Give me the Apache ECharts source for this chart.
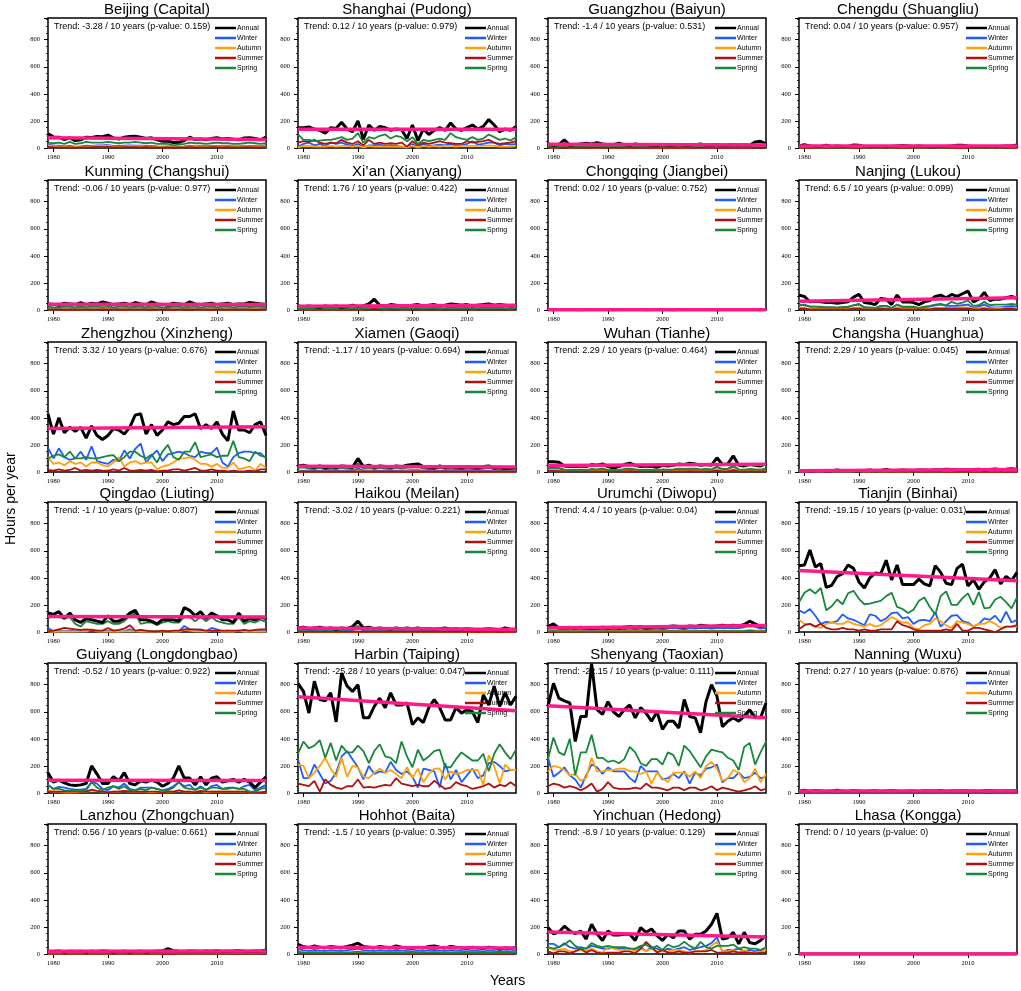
<!DOCTYPE html>
<html>
<head>
<meta charset="utf-8">
<script src="https://cdn.jsdelivr.net/npm/echarts@6/dist/echarts.min.js"></script>
<style>
  html, body { margin: 0; padding: 0; background: #fff; }
  #main { width: 1021px; height: 991px; }
</style>
</head>
<body>
<div id="main"></div>
<script>
var years = [1979, 1980, 1981, 1982, 1983, 1984, 1985, 1986, 1987, 1988,
  1989, 1990, 1991, 1992, 1993, 1994, 1995, 1996, 1997, 1998,
  1999, 2000, 2001, 2002, 2003, 2004, 2005, 2006, 2007, 2008,
  2009, 2010, 2011, 2012, 2013, 2014, 2015, 2016, 2017, 2018,
  2019];

var seasonNames = ['Annual', 'Winter', 'Autumn', 'Summer', 'Spring'];
var yTicks = [0, 200, 400, 600, 800];

// Beijing (Capital)
var beijingAnnual = [105, 82, 80, 62, 75, 55, 60, 80, 78, 85,
  84, 95, 75, 66, 80, 85, 86, 80, 70, 75,
  60, 50, 52, 40, 42, 55, 80, 62, 66, 60,
  70, 76, 66, 70, 64, 60, 74, 76, 70, 60,
  80];
var beijingWinter = [25, 20, 18, 12, 15, 10, 12, 18, 15, 20,
  20, 22, 15, 15, 18, 20, 18, 17, 15, 16,
  12, 10, 12, 8, 8, 12, 18, 12, 14, 13,
  15, 16, 14, 15, 14, 12, 16, 15, 15, 13,
  20];
var beijingAutumn = [20, 15, 12, 10, 8, 8, 6, 10, 12, 15,
  14, 18, 12, 8, 12, 15, 14, 14, 10, 10,
  10, 6, 6, 8, 5, 8, 12, 8, 9, 10,
  12, 12, 10, 12, 12, 10, 14, 12, 12, 10,
  15];
var beijingSummer = [8, 6, 5, 4, 5, 3, 4, 5, 6, 8,
  6, 8, 5, 4, 6, 6, 6, 5, 6, 5,
  4, 3, 4, 3, 3, 4, 6, 5, 5, 5,
  6, 6, 5, 6, 5, 5, 6, 6, 5, 5,
  6];
var beijingSpring = [40, 35, 40, 30, 45, 30, 35, 45, 40, 40,
  40, 45, 40, 35, 40, 40, 45, 40, 35, 40,
  30, 30, 30, 20, 25, 30, 40, 35, 35, 30,
  35, 40, 35, 35, 30, 30, 35, 40, 35, 30,
  35];

// Shanghai (Pudong)
var shanghaiAnnual = [150, 150, 155, 140, 130, 110, 150, 145, 190, 140,
  120, 200, 65, 170, 130, 160, 150, 130, 140, 135,
  70, 170, 55, 140, 100, 130, 150, 130, 185, 140,
  130, 150, 170, 140, 160, 210, 170, 120, 140, 130,
  160];
var shanghaiWinter = [10, 30, 40, 20, 30, 15, 40, 30, 40, 25,
  15, 30, 5, 20, 20, 25, 15, 20, 15, 10,
  5, 30, 5, 30, 15, 20, 25, 20, 30, 20,
  20, 30, 50, 25, 30, 40, 40, 20, 30, 25,
  30];
var shanghaiAutumn = [5, 15, 15, 10, 10, 10, 15, 10, 15, 15,
  10, 15, 5, 15, 10, 10, 10, 10, 10, 10,
  5, 15, 5, 15, 10, 15, 10, 15, 15, 10,
  15, 15, 15, 15, 15, 20, 15, 10, 10, 10,
  15];
var shanghaiSummer = [40, 50, 45, 60, 40, 30, 40, 35, 60, 40,
  30, 50, 20, 60, 30, 40, 30, 35, 30, 40,
  10, 50, 20, 40, 30, 40, 50, 40, 35, 30,
  30, 50, 40, 45, 50, 60, 40, 30, 35, 40,
  50];
var shanghaiSpring = [100, 60, 60, 50, 55, 60, 60, 70, 80, 60,
  70, 110, 40, 80, 70, 90, 100, 70, 90, 80,
  50, 80, 30, 60, 50, 60, 70, 60, 110, 80,
  70, 60, 80, 60, 70, 100, 80, 60, 70, 55,
  80];

// Guangzhou (Baiyun)
var guangzhouAnnual = [30, 20, 25, 60, 20, 25, 30, 35, 30, 40,
  30, 25, 25, 35, 25, 20, 30, 25, 25, 20,
  20, 25, 20, 20, 25, 20, 20, 25, 30, 20,
  20, 25, 20, 20, 25, 20, 25, 20, 45, 50,
  30];
var guangzhouWinter = [8, 5, 6, 15, 5, 6, 8, 10, 8, 10,
  8, 6, 6, 10, 6, 5, 8, 6, 6, 5,
  5, 6, 5, 5, 6, 5, 5, 6, 8, 5,
  5, 6, 5, 5, 6, 5, 6, 5, 12, 12,
  8];
var guangzhouAutumn = [4, 3, 4, 8, 3, 4, 4, 5, 4, 5,
  4, 4, 4, 5, 4, 3, 4, 4, 4, 3,
  3, 4, 3, 3, 4, 3, 3, 4, 4, 3,
  3, 4, 3, 3, 4, 3, 4, 3, 8, 8,
  4];
var guangzhouSummer = [3, 2, 3, 7, 2, 3, 3, 5, 3, 5,
  3, 3, 3, 5, 3, 2, 3, 3, 3, 2,
  2, 3, 2, 2, 3, 2, 2, 3, 3, 2,
  2, 3, 2, 2, 3, 2, 3, 2, 5, 5,
  3];
var guangzhouSpring = [15, 10, 12, 30, 10, 12, 15, 15, 15, 20,
  15, 12, 12, 15, 12, 10, 15, 12, 12, 10,
  10, 12, 10, 10, 12, 10, 10, 12, 15, 10,
  10, 12, 10, 10, 12, 10, 12, 10, 20, 25,
  15];

// Chengdu (Shuangliu)
var chengduAnnual = [15, 25, 15, 12, 12, 20, 12, 15, 10, 12,
  22, 20, 12, 10, 12, 12, 10, 12, 15, 18,
  15, 12, 15, 12, 10, 10, 12, 12, 15, 20,
  20, 15, 12, 12, 10, 12, 10, 12, 15, 15,
  22];
var chengduWinter = [6, 10, 6, 5, 5, 8, 5, 6, 4, 5,
  9, 8, 5, 4, 5, 5, 4, 5, 6, 7,
  6, 5, 6, 5, 4, 4, 5, 5, 6, 8,
  8, 6, 5, 5, 4, 5, 4, 5, 6, 6,
  9];
var chengduAutumn = [3, 5, 3, 3, 3, 4, 3, 3, 2, 3,
  5, 4, 3, 2, 3, 3, 2, 3, 3, 4,
  3, 3, 3, 3, 2, 2, 3, 3, 3, 4,
  4, 3, 3, 3, 2, 3, 2, 3, 3, 3,
  5];
var chengduSummer = [2, 3, 2, 1, 1, 2, 1, 2, 1, 1,
  2, 2, 1, 1, 1, 1, 1, 1, 2, 2,
  2, 1, 2, 1, 1, 1, 1, 1, 2, 2,
  2, 2, 1, 1, 1, 1, 1, 1, 2, 2,
  2];
var chengduSpring = [4, 7, 4, 3, 3, 6, 3, 4, 3, 3,
  6, 6, 3, 3, 3, 3, 3, 3, 4, 5,
  4, 3, 4, 3, 3, 3, 3, 3, 4, 6,
  6, 4, 3, 3, 3, 3, 3, 3, 4, 4,
  6];

// Kunming (Changshui)
var kunmingAnnual = [45, 40, 35, 50, 45, 40, 55, 40, 50, 45,
  60, 50, 40, 45, 50, 40, 55, 45, 40, 60,
  45, 40, 35, 50, 45, 40, 60, 45, 40, 45,
  50, 40, 45, 50, 40, 45, 45, 55, 50, 45,
  40];
var kunmingWinter = [12, 12, 10, 14, 12, 12, 15, 12, 14, 12,
  16, 14, 12, 12, 14, 12, 15, 12, 12, 16,
  12, 12, 10, 14, 12, 12, 16, 12, 12, 12,
  14, 12, 12, 14, 12, 12, 12, 15, 14, 12,
  12];
var kunmingAutumn = [5, 5, 5, 6, 5, 5, 7, 5, 6, 5,
  8, 6, 5, 5, 6, 5, 7, 5, 5, 8,
  5, 5, 5, 6, 5, 5, 8, 5, 5, 5,
  6, 5, 5, 6, 5, 5, 5, 7, 6, 5,
  5];
var kunmingSummer = [3, 3, 2, 2, 3, 3, 3, 3, 2, 3,
  4, 2, 3, 3, 2, 3, 3, 3, 3, 4,
  3, 3, 2, 2, 3, 3, 4, 3, 3, 3,
  2, 3, 3, 2, 3, 3, 3, 3, 2, 3,
  3];
var kunmingSpring = [25, 20, 18, 28, 25, 20, 30, 20, 28, 25,
  32, 28, 20, 25, 28, 20, 30, 25, 20, 32,
  25, 20, 18, 28, 25, 20, 32, 25, 20, 25,
  28, 20, 25, 28, 20, 25, 25, 30, 28, 25,
  20];

// Xi'an (Xianyang)
var xianAnnual = [30, 25, 30, 25, 20, 30, 25, 30, 20, 25,
  35, 25, 30, 45, 80, 35, 30, 40, 35, 30,
  30, 35, 40, 30, 35, 40, 30, 35, 45, 40,
  35, 40, 30, 35, 40, 45, 35, 40, 35, 30,
  35];
var xianWinter = [10, 8, 10, 8, 6, 10, 8, 10, 6, 8,
  12, 8, 10, 15, 25, 12, 10, 13, 12, 10,
  10, 12, 13, 10, 12, 13, 10, 12, 15, 13,
  12, 13, 10, 12, 13, 15, 12, 13, 12, 10,
  12];
var xianAutumn = [5, 4, 5, 4, 4, 5, 4, 5, 4, 4,
  6, 4, 5, 8, 15, 6, 5, 7, 6, 5,
  5, 6, 7, 5, 6, 7, 5, 6, 8, 7,
  6, 7, 5, 6, 7, 8, 6, 7, 6, 5,
  6];
var xianSummer = [3, 3, 3, 3, 2, 3, 3, 3, 2, 3,
  3, 3, 3, 4, 10, 3, 3, 4, 3, 3,
  3, 3, 4, 3, 3, 4, 3, 3, 4, 4,
  3, 4, 3, 3, 4, 4, 3, 4, 3, 3,
  3];
var xianSpring = [12, 10, 12, 10, 8, 12, 10, 12, 8, 10,
  14, 10, 12, 18, 30, 14, 12, 16, 14, 12,
  12, 14, 16, 12, 14, 16, 12, 14, 18, 16,
  14, 16, 12, 14, 16, 18, 14, 16, 14, 12,
  14];

// Chongqing (Jiangbei)
var chongqingAnnual = [2, 1, 1, 2, 1, 1, 0, 1, 2, 1,
  1, 1, 0, 1, 1, 2, 1, 1, 0, 1,
  1, 1, 1, 0, 1, 1, 1, 2, 1, 1,
  1, 0, 1, 1, 1, 1, 2, 1, 1, 1,
  1];
var chongqingWinter = [1, 1, 0, 1, 0, 1, 0, 0, 1, 1,
  0, 1, 0, 0, 1, 1, 0, 1, 0, 0,
  1, 0, 1, 0, 0, 1, 0, 1, 1, 0,
  0, 0, 1, 0, 1, 0, 1, 0, 1, 0,
  1];
var chongqingAutumn = [0, 0, 0, 0, 0, 0, 0, 0, 0, 0,
  0, 0, 0, 0, 0, 0, 0, 0, 0, 0,
  0, 0, 0, 0, 0, 0, 0, 0, 0, 0,
  0, 0, 0, 0, 0, 0, 0, 0, 0, 0,
  0];
var chongqingSummer = [0, 0, 0, 0, 0, 0, 0, 0, 0, 0,
  0, 0, 0, 0, 0, 0, 0, 0, 0, 0,
  0, 0, 0, 0, 0, 0, 0, 0, 0, 0,
  0, 0, 0, 0, 0, 0, 0, 0, 0, 0,
  0];
var chongqingSpring = [1, 0, 1, 1, 1, 0, 0, 1, 1, 0,
  1, 0, 0, 1, 0, 1, 1, 0, 0, 1,
  0, 1, 0, 0, 1, 0, 1, 1, 0, 1,
  1, 0, 0, 1, 0, 1, 1, 1, 0, 1,
  0];

// Nanjing (Lukou)
var nanjingAnnual = [110, 100, 60, 65, 60, 55, 55, 50, 55, 60,
  95, 115, 55, 50, 40, 85, 80, 40, 110, 60,
  60, 55, 40, 60, 70, 100, 110, 90, 115, 100,
  120, 140, 60, 80, 130, 70, 80, 80, 90, 100,
  85];
var nanjingWinter = [35, 40, 25, 25, 20, 20, 20, 15, 20, 20,
  35, 45, 20, 15, 12, 30, 30, 12, 40, 20,
  20, 20, 12, 20, 25, 35, 40, 30, 30, 30,
  35, 40, 15, 25, 40, 20, 20, 20, 25, 30,
  25];
var nanjingAutumn = [20, 15, 5, 10, 10, 10, 10, 10, 8, 10,
  15, 20, 10, 10, 8, 15, 12, 8, 20, 10,
  10, 5, 8, 10, 10, 15, 15, 15, 15, 15,
  20, 20, 10, 15, 20, 10, 15, 15, 15, 15,
  15];
var nanjingSummer = [10, 10, 5, 5, 5, 5, 5, 5, 5, 5,
  10, 10, 5, 5, 5, 10, 8, 5, 10, 5,
  5, 5, 5, 5, 5, 10, 10, 10, 10, 10,
  10, 10, 5, 5, 10, 5, 5, 5, 10, 10,
  5];
var nanjingSpring = [40, 35, 25, 25, 25, 20, 20, 20, 22, 25,
  35, 40, 20, 20, 15, 30, 30, 15, 40, 25,
  25, 25, 15, 25, 30, 40, 45, 35, 60, 45,
  55, 70, 30, 35, 60, 35, 40, 40, 40, 45,
  40];

// Zhengzhou (Xinzheng)
var zhengzhouAnnual = [430, 280, 400, 290, 330, 300, 330, 250, 340, 270,
  240, 270, 320, 310, 280, 330, 420, 430, 280, 350,
  270, 310, 370, 350, 360, 410, 410, 430, 320, 350,
  320, 370, 280, 230, 450, 310, 310, 290, 350, 370,
  270];
var zhengzhouWinter = [180, 100, 175, 110, 90, 100, 150, 90, 190, 80,
  70, 60, 90, 80, 160, 100, 170, 210, 70, 120,
  160, 80, 130, 140, 150, 140, 120, 110, 150, 140,
  140, 180, 70, 40, 110, 140, 150, 150, 140, 140,
  100];
var zhengzhouAutumn = [110, 60, 70, 50, 80, 60, 70, 40, 70, 70,
  50, 40, 70, 110, 40, 70, 80, 60, 70, 70,
  20, 40, 50, 70, 100, 100, 110, 90, 60, 60,
  40, 60, 30, 30, 70, 20, 30, 40, 10, 60,
  30];
var zhengzhouSummer = [15, 10, 20, 10, 15, 30, 10, 15, 10, 15,
  10, 10, 20, 10, 30, 10, 10, 15, 10, 15,
  5, 10, 10, 20, 20, 10, 20, 30, 10, 10,
  20, 10, 10, 5, 10, 5, 5, 10, 5, 20,
  20];
var zhengzhouSpring = [100, 120, 130, 110, 150, 100, 100, 110, 100, 100,
  110, 120, 125, 80, 110, 150, 150, 120, 100, 130,
  70, 150, 200, 110, 90, 150, 150, 220, 110, 120,
  130, 110, 120, 120, 230, 110, 100, 80, 150, 120,
  110];

// Xiamen (Gaoqi)
var xiamenAnnual = [45, 50, 40, 35, 45, 30, 40, 35, 45, 40,
  35, 100, 40, 50, 35, 45, 40, 35, 45, 40,
  50, 55, 60, 40, 35, 30, 45, 35, 40, 35,
  30, 40, 35, 30, 40, 45, 30, 35, 25, 30,
  35];
var xiamenWinter = [10, 10, 10, 8, 10, 6, 10, 8, 10, 10,
  8, 25, 10, 12, 8, 10, 10, 8, 10, 10,
  12, 14, 14, 10, 8, 6, 10, 8, 10, 8,
  6, 10, 8, 6, 10, 10, 6, 8, 6, 6,
  8];
var xiamenAutumn = [3, 3, 3, 3, 3, 2, 3, 3, 3, 3,
  3, 6, 3, 4, 3, 3, 3, 3, 3, 3,
  4, 4, 4, 3, 3, 2, 3, 3, 3, 3,
  2, 3, 3, 2, 3, 3, 2, 3, 2, 2,
  3];
var xiamenSummer = [2, 2, 2, 2, 2, 2, 2, 2, 2, 2,
  2, 4, 2, 2, 2, 2, 2, 2, 2, 2,
  2, 2, 2, 2, 2, 2, 2, 2, 2, 2,
  2, 2, 2, 2, 2, 2, 2, 2, 2, 2,
  2];
var xiamenSpring = [30, 35, 25, 22, 30, 20, 25, 22, 30, 25,
  22, 65, 25, 32, 22, 30, 25, 22, 30, 25,
  32, 35, 40, 25, 22, 20, 30, 22, 25, 22,
  20, 25, 22, 20, 25, 30, 20, 22, 15, 20,
  22];

// Wuhan (Tianhe)
var wuhanAnnual = [75, 75, 72, 45, 40, 40, 45, 40, 55, 50,
  60, 40, 30, 40, 55, 65, 50, 40, 45, 40,
  35, 50, 45, 50, 60, 55, 65, 60, 50, 55,
  50, 105, 55, 60, 120, 50, 45, 55, 50, 45,
  60];
var wuhanWinter = [25, 25, 25, 15, 14, 14, 15, 14, 18, 16,
  20, 14, 10, 14, 18, 22, 16, 14, 15, 14,
  12, 16, 15, 16, 20, 18, 22, 20, 16, 18,
  16, 35, 18, 20, 40, 16, 15, 18, 16, 15,
  20];
var wuhanAutumn = [12, 12, 10, 8, 7, 7, 8, 7, 10, 9,
  10, 7, 5, 7, 10, 12, 9, 7, 8, 7,
  6, 9, 8, 9, 10, 10, 12, 10, 9, 10,
  9, 20, 10, 10, 22, 9, 8, 10, 9, 8,
  10];
var wuhanSummer = [8, 8, 7, 4, 4, 4, 4, 4, 5, 5,
  5, 4, 3, 4, 5, 6, 5, 4, 4, 4,
  3, 5, 4, 5, 5, 5, 6, 5, 5, 5,
  5, 10, 5, 5, 13, 5, 4, 5, 5, 4,
  5];
var wuhanSpring = [30, 30, 30, 18, 15, 15, 18, 15, 22, 20,
  25, 15, 12, 15, 22, 25, 20, 15, 18, 15,
  14, 20, 18, 20, 25, 22, 25, 25, 20, 22,
  20, 40, 22, 25, 45, 20, 18, 22, 20, 18,
  25];

// Changsha (Huanghua)
var changshaAnnual = [10, 12, 8, 10, 12, 8, 10, 14, 10, 12,
  10, 8, 12, 15, 10, 12, 18, 10, 12, 14,
  12, 10, 15, 14, 12, 16, 14, 20, 18, 15,
  16, 14, 18, 20, 15, 18, 22, 16, 20, 25,
  18];
var changshaWinter = [4, 5, 3, 4, 5, 3, 4, 6, 4, 5,
  4, 3, 5, 6, 4, 5, 7, 4, 5, 6,
  5, 4, 6, 6, 5, 6, 6, 8, 7, 6,
  6, 6, 7, 8, 6, 7, 9, 6, 8, 10,
  7];
var changshaAutumn = [2, 2, 1, 2, 2, 1, 2, 3, 2, 2,
  2, 1, 2, 3, 2, 2, 3, 2, 2, 3,
  2, 2, 3, 3, 2, 3, 3, 4, 3, 3,
  3, 3, 3, 4, 3, 3, 4, 3, 4, 5,
  3];
var changshaSummer = [1, 1, 1, 1, 1, 1, 1, 1, 1, 1,
  1, 1, 1, 1, 1, 1, 2, 1, 1, 1,
  1, 1, 1, 1, 1, 2, 1, 2, 2, 1,
  2, 1, 2, 2, 1, 2, 2, 2, 2, 2,
  2];
var changshaSpring = [3, 4, 3, 3, 4, 3, 3, 4, 3, 4,
  3, 3, 4, 5, 3, 4, 6, 3, 4, 4,
  4, 3, 5, 4, 4, 5, 4, 6, 6, 5,
  5, 4, 6, 6, 5, 6, 7, 5, 6, 8,
  6];

// Qingdao (Liuting)
var qingdaoAnnual = [140, 130, 150, 100, 140, 90, 70, 100, 90, 80,
  70, 120, 80, 80, 100, 140, 160, 90, 90, 80,
  60, 90, 90, 90, 80, 180, 160, 120, 150, 100,
  140, 120, 90, 90, 70, 140, 80, 100, 90, 110,
  100];
var qingdaoWinter = [30, 5, 10, 5, 10, 5, 10, 5, 10, 10,
  5, 10, 10, 5, 5, 20, 5, 10, 5, 5,
  5, 5, 5, 5, 5, 45, 20, 15, 20, 5,
  30, 20, 5, 10, 5, 10, 5, 5, 5, 10,
  5];
var qingdaoAutumn = [5, 2, 5, 3, 5, 3, 5, 5, 20, 5,
  3, 5, 3, 3, 5, 5, 5, 3, 5, 3,
  3, 5, 3, 3, 3, 15, 10, 5, 5, 3,
  10, 10, 3, 5, 3, 10, 3, 5, 3, 5,
  3];
var qingdaoSummer = [5, 10, 20, 30, 25, 20, 15, 20, 15, 10,
  10, 30, 10, 15, 25, 50, 10, 15, 10, 5,
  5, 10, 5, 10, 10, 20, 20, 20, 15, 10,
  10, 10, 10, 10, 10, 10, 15, 10, 15, 20,
  20];
var qingdaoSpring = [100, 120, 110, 100, 110, 60, 40, 80, 70, 60,
  60, 80, 60, 60, 80, 120, 140, 60, 70, 70,
  50, 70, 80, 70, 70, 110, 110, 80, 110, 80,
  110, 80, 70, 60, 60, 110, 60, 80, 70, 90,
  75];

// Haikou (Meilan)
var haikouAnnual = [30, 35, 25, 30, 35, 25, 30, 20, 30, 25,
  40, 80, 30, 35, 25, 30, 25, 20, 30, 25,
  30, 25, 30, 20, 25, 20, 25, 30, 20, 25,
  20, 25, 20, 15, 20, 25, 20, 15, 30, 20,
  20];
var haikouWinter = [10, 12, 8, 10, 12, 8, 10, 6, 10, 8,
  12, 30, 10, 12, 8, 10, 8, 6, 10, 8,
  10, 8, 10, 6, 8, 6, 8, 10, 6, 8,
  6, 8, 6, 5, 6, 8, 6, 5, 10, 6,
  6];
var haikouAutumn = [2, 2, 1, 1, 2, 1, 1, 1, 1, 1,
  2, 3, 1, 2, 1, 1, 1, 1, 1, 1,
  1, 1, 1, 1, 1, 1, 1, 1, 1, 1,
  1, 1, 1, 1, 1, 1, 1, 1, 1, 1,
  1];
var haikouSummer = [1, 1, 1, 1, 1, 1, 1, 1, 1, 1,
  2, 2, 1, 1, 1, 1, 1, 1, 1, 1,
  1, 1, 1, 1, 1, 1, 1, 1, 1, 1,
  1, 1, 1, 0, 1, 1, 1, 0, 1, 1,
  1];
var haikouSpring = [18, 20, 15, 18, 20, 15, 18, 12, 18, 15,
  24, 45, 18, 20, 15, 18, 15, 12, 18, 15,
  18, 15, 18, 12, 15, 12, 15, 18, 12, 15,
  12, 15, 12, 9, 12, 15, 12, 9, 18, 12,
  12];

// Urumchi (Diwopu)
var urumchiAnnual = [40, 60, 30, 30, 35, 30, 35, 30, 25, 30,
  35, 30, 35, 30, 35, 40, 35, 40, 30, 35,
  40, 35, 40, 45, 40, 35, 45, 40, 50, 45,
  40, 45, 50, 45, 50, 45, 55, 80, 60, 40,
  50];
var urumchiWinter = [25, 40, 18, 18, 20, 18, 20, 18, 15, 18,
  20, 18, 20, 18, 20, 25, 20, 25, 18, 20,
  25, 20, 25, 28, 25, 20, 28, 25, 30, 28,
  25, 28, 30, 28, 30, 28, 35, 50, 38, 25,
  30];
var urumchiAutumn = [8, 10, 6, 6, 8, 6, 8, 6, 5, 6,
  8, 6, 8, 6, 8, 8, 8, 8, 6, 8,
  8, 8, 8, 9, 8, 8, 9, 8, 10, 9,
  8, 9, 10, 9, 10, 9, 10, 15, 12, 8,
  10];
var urumchiSummer = [2, 2, 2, 2, 2, 2, 2, 2, 1, 2,
  2, 2, 2, 2, 2, 2, 2, 2, 2, 2,
  2, 2, 2, 2, 2, 2, 2, 2, 3, 2,
  2, 2, 3, 2, 3, 2, 3, 5, 3, 2,
  3];
var urumchiSpring = [5, 8, 4, 4, 5, 4, 5, 4, 4, 4,
  5, 4, 5, 4, 5, 5, 5, 5, 4, 5,
  5, 5, 5, 6, 5, 5, 6, 5, 7, 6,
  5, 6, 7, 6, 7, 6, 7, 10, 7, 5,
  7];

// Tianjin (Binhai)
var tianjinAnnual = [490, 495, 605, 480, 505, 330, 345, 410, 430, 495,
  470, 370, 325, 400, 435, 430, 530, 385, 495, 350,
  350, 350, 390, 355, 340, 490, 440, 360, 350, 470,
  500, 340, 385, 315, 370, 400, 460, 355, 410, 380,
  440];
var tianjinWinter = [160, 140, 170, 120, 60, 75, 70, 80, 130, 100,
  90, 70, 50, 130, 120, 80, 100, 140, 145, 100,
  110, 60, 85, 90, 80, 145, 40, 80, 120, 125,
  80, 70, 40, 60, 100, 90, 120, 70, 150, 70,
  90];
var tianjinAutumn = [90, 60, 60, 40, 30, 60, 70, 60, 60, 80,
  60, 50, 40, 60, 40, 50, 80, 110, 90, 70,
  70, 30, 20, 50, 60, 100, 80, 50, 30, 80,
  70, 60, 40, 60, 60, 80, 60, 30, 40, 40,
  40];
var tianjinSummer = [20, 50, 60, 40, 60, 30, 20, 20, 30, 20,
  20, 10, 20, 10, 10, 20, 20, 20, 80, 50,
  40, 20, 10, 10, 10, 10, 10, 20, 10, 60,
  10, 10, 30, 30, 20, 10, 0, 20, 40, 40,
  50];
var tianjinSpring = [220, 290, 315, 285, 325, 160, 190, 240, 205, 285,
  305, 245, 205, 210, 220, 230, 265, 290, 185, 170,
  140, 165, 230, 255, 185, 130, 265, 300, 200, 200,
  250, 285, 200, 295, 175, 180, 240, 260, 220, 175,
  255];

// Guiyang (Longdongbao)
var guiyangAnnual = [150, 80, 95, 75, 60, 55, 60, 70, 200, 140,
  70, 70, 120, 90, 150, 70, 60, 90, 80, 95,
  80, 50, 70, 110, 200, 110, 110, 60, 120, 60,
  110, 120, 80, 90, 100, 80, 100, 80, 40, 80,
  120];
var guiyangWinter = [60, 30, 45, 40, 30, 25, 25, 30, 80, 70,
  30, 20, 50, 40, 70, 30, 20, 40, 40, 40,
  30, 20, 30, 50, 80, 50, 60, 20, 50, 20,
  50, 60, 30, 40, 40, 30, 50, 60, 20, 40,
  60];
var guiyangAutumn = [20, 10, 10, 5, 5, 5, 10, 10, 15, 15,
  10, 5, 10, 10, 15, 10, 10, 10, 10, 5,
  10, 5, 10, 10, 20, 10, 10, 10, 15, 5,
  10, 10, 10, 10, 10, 10, 10, 5, 5, 5,
  10];
var guiyangSummer = [10, 10, 10, 10, 10, 10, 10, 10, 25, 15,
  10, 5, 10, 10, 15, 10, 10, 10, 10, 10,
  10, 5, 10, 10, 20, 10, 10, 5, 15, 10,
  10, 10, 10, 10, 10, 10, 10, 5, 5, 5,
  10];
var guiyangSpring = [60, 30, 30, 20, 15, 15, 15, 20, 80, 40,
  20, 40, 50, 30, 50, 20, 20, 30, 20, 40,
  30, 20, 20, 40, 80, 40, 30, 25, 40, 25,
  40, 40, 30, 30, 40, 30, 30, 10, 10, 30,
  40];

// Harbin (Taiping)
var harbinAnnual = [810, 750, 590, 825, 690, 680, 740, 525, 885, 790,
  750, 800, 555, 555, 640, 700, 630, 740, 650, 650,
  665, 505, 555, 520, 630, 690, 630, 540, 540, 630,
  590, 615, 600, 520, 725, 650, 790, 640, 740, 650,
  715];
var harbinWinter = [250, 110, 110, 210, 140, 70, 90, 150, 270, 310,
  250, 190, 100, 200, 140, 160, 150, 230, 170, 140,
  160, 120, 40, 180, 170, 160, 40, 220, 100, 170,
  80, 130, 180, 110, 130, 220, 230, 200, 160, 170,
  170];
var harbinAutumn = [210, 200, 110, 150, 200, 260, 180, 120, 260, 120,
  200, 190, 120, 110, 150, 180, 150, 170, 140, 110,
  190, 110, 180, 80, 140, 180, 180, 100, 160, 140,
  150, 170, 170, 170, 60, 280, 200, 70, 210, 170,
  170];
var harbinSummer = [70, 60, 50, 90, 10, 100, 60, 40, 30, 50,
  50, 100, 40, 45, 40, 50, 60, 55, 110, 70,
  60, 50, 60, 50, 50, 90, 60, 30, 40, 80,
  60, 50, 30, 40, 50, 70, 40, 60, 50, 80,
  50];
var harbinSpring = [290, 380, 330, 350, 390, 260, 370, 240, 350, 300,
  300, 350, 310, 220, 310, 360, 270, 260, 220, 380,
  270, 190, 320, 240, 270, 310, 320, 190, 190, 250,
  300, 270, 240, 240, 290, 160, 290, 360, 300, 250,
  320];

// Shenyang (Taoxian)
var shenyangAnnual = [640, 810, 700, 680, 665, 380, 565, 565, 955, 615,
  580, 675, 600, 565, 615, 650, 555, 630, 590, 530,
  600, 470, 530, 530, 480, 690, 565, 555, 445, 675,
  800, 715, 490, 530, 555, 530, 565, 615, 555, 555,
  665];
var shenyangWinter = [260, 120, 150, 190, 130, 100, 40, 130, 210, 190,
  140, 190, 160, 160, 160, 110, 80, 200, 160, 160,
  160, 100, 110, 140, 110, 160, 70, 150, 130, 180,
  190, 210, 80, 110, 110, 150, 110, 120, 150, 110,
  120];
var shenyangAutumn = [160, 200, 190, 170, 130, 140, 90, 110, 260, 160,
  160, 170, 170, 180, 180, 160, 160, 140, 160, 70,
  150, 110, 80, 150, 150, 150, 120, 160, 110, 200,
  230, 180, 90, 110, 170, 150, 80, 110, 180, 80,
  140];
var shenyangSummer = [50, 70, 60, 40, 50, 40, 20, 40, 70, 10,
  30, 80, 40, 30, 30, 30, 40, 30, 70, 40,
  40, 30, 20, 40, 40, 20, 40, 40, 20, 30,
  50, 20, 40, 30, 20, 10, 20, 30, 50, 20,
  30];
var shenyangSpring = [250, 410, 300, 280, 400, 130, 300, 300, 430, 260,
  260, 230, 240, 220, 250, 340, 300, 220, 200, 250,
  250, 210, 300, 280, 200, 350, 310, 250, 190, 270,
  320, 310, 300, 260, 240, 170, 340, 370, 210, 300,
  380];

// Nanning (Wuxu)
var nanningAnnual = [15, 20, 12, 18, 15, 12, 15, 20, 14, 12,
  18, 15, 12, 14, 16, 12, 15, 18, 14, 12,
  15, 14, 12, 16, 15, 14, 18, 12, 15, 14,
  16, 14, 15, 12, 16, 18, 14, 15, 16, 14,
  18];
var nanningWinter = [6, 8, 5, 7, 6, 5, 6, 8, 6, 5,
  7, 6, 5, 6, 6, 5, 6, 7, 6, 5,
  6, 6, 5, 6, 6, 6, 7, 5, 6, 6,
  6, 6, 6, 5, 6, 7, 6, 6, 6, 6,
  7];
var nanningAutumn = [2, 3, 1, 2, 2, 1, 2, 3, 2, 1,
  3, 2, 1, 2, 3, 1, 2, 3, 2, 1,
  2, 2, 1, 3, 2, 2, 3, 1, 2, 2,
  3, 2, 2, 1, 3, 3, 2, 2, 3, 2,
  3];
var nanningSummer = [1, 1, 1, 2, 1, 1, 1, 1, 1, 1,
  1, 1, 1, 1, 1, 1, 1, 1, 1, 1,
  1, 1, 1, 1, 1, 1, 1, 1, 1, 1,
  1, 1, 1, 1, 1, 1, 1, 1, 1, 1,
  1];
var nanningSpring = [6, 8, 5, 7, 6, 5, 6, 8, 5, 5,
  7, 6, 5, 5, 6, 5, 6, 7, 5, 5,
  6, 5, 5, 6, 6, 5, 7, 5, 6, 5,
  6, 5, 6, 5, 6, 7, 5, 6, 6, 5,
  7];

// Lanzhou (Zhongchuan)
var lanzhouAnnual = [20, 18, 22, 15, 20, 18, 20, 15, 20, 18,
  22, 20, 15, 18, 20, 15, 18, 20, 15, 18,
  20, 22, 40, 25, 20, 18, 22, 20, 18, 22,
  20, 25, 18, 20, 22, 25, 20, 18, 22, 20,
  30];
var lanzhouWinter = [10, 9, 11, 8, 10, 9, 10, 8, 10, 9,
  11, 10, 8, 9, 10, 8, 9, 10, 8, 9,
  10, 11, 20, 12, 10, 9, 11, 10, 9, 11,
  10, 12, 9, 10, 11, 12, 10, 9, 11, 10,
  15];
var lanzhouAutumn = [3, 3, 3, 2, 3, 3, 3, 2, 3, 3,
  3, 3, 2, 3, 3, 2, 3, 3, 2, 3,
  3, 3, 6, 4, 3, 3, 3, 3, 3, 3,
  3, 4, 3, 3, 3, 4, 3, 3, 3, 3,
  5];
var lanzhouSummer = [1, 1, 1, 1, 1, 1, 1, 1, 1, 1,
  1, 1, 1, 1, 1, 1, 1, 1, 1, 1,
  1, 1, 3, 1, 1, 1, 1, 1, 1, 1,
  1, 1, 1, 1, 1, 1, 1, 1, 1, 1,
  2];
var lanzhouSpring = [5, 5, 6, 4, 5, 5, 5, 4, 5, 5,
  6, 5, 4, 5, 5, 4, 5, 5, 4, 5,
  5, 6, 10, 7, 5, 5, 6, 5, 5, 6,
  5, 7, 5, 5, 6, 7, 5, 5, 6, 5,
  8];

// Hohhot (Baita)
var hohhotAnnual = [70, 55, 45, 60, 50, 45, 55, 50, 45, 55,
  65, 80, 55, 50, 45, 55, 50, 45, 60, 50,
  45, 40, 50, 45, 55, 60, 50, 45, 55, 50,
  45, 40, 50, 45, 40, 50, 45, 35, 45, 40,
  50];
var hohhotWinter = [35, 28, 22, 30, 25, 22, 28, 25, 22, 28,
  32, 40, 28, 25, 22, 28, 25, 22, 30, 25,
  22, 20, 25, 22, 28, 30, 25, 22, 28, 25,
  22, 20, 25, 22, 20, 25, 22, 18, 22, 20,
  25];
var hohhotAutumn = [15, 12, 10, 13, 11, 10, 12, 11, 10, 12,
  14, 17, 12, 11, 10, 12, 11, 10, 13, 11,
  10, 9, 11, 10, 12, 13, 11, 10, 12, 11,
  10, 9, 11, 10, 9, 11, 10, 7, 10, 9,
  11];
var hohhotSummer = [5, 3, 3, 4, 3, 3, 3, 3, 3, 3,
  5, 5, 3, 3, 3, 3, 3, 3, 4, 3,
  3, 2, 3, 3, 3, 4, 3, 3, 3, 3,
  3, 2, 3, 3, 2, 3, 3, 2, 3, 2,
  3];
var hohhotSpring = [15, 12, 10, 13, 11, 10, 12, 11, 10, 12,
  14, 18, 12, 11, 10, 12, 11, 10, 13, 11,
  10, 9, 11, 10, 12, 13, 11, 10, 12, 11,
  10, 9, 11, 10, 9, 11, 10, 8, 10, 9,
  11];

// Yinchuan (Hedong)
var yinchuanAnnual = [195, 150, 160, 205, 170, 150, 170, 110, 220, 150,
  100, 170, 140, 140, 145, 145, 100, 195, 160, 185,
  135, 100, 145, 120, 170, 170, 110, 145, 145, 170,
  220, 300, 110, 120, 160, 75, 160, 85, 75, 100,
  135];
var yinchuanWinter = [75, 75, 50, 80, 50, 40, 50, 40, 60, 50,
  40, 40, 45, 40, 40, 40, 35, 50, 20, 50,
  40, 20, 40, 30, 40, 50, 30, 40, 50, 60,
  80, 125, 15, 30, 30, 40, 20, 30, 20, 30,
  40];
var yinchuanAutumn = [50, 30, 30, 40, 20, 20, 30, 20, 40, 20,
  10, 50, 40, 30, 30, 40, 20, 40, 20, 40,
  20, 20, 20, 30, 30, 20, 10, 20, 20, 30,
  60, 90, 20, 20, 30, 10, 30, 10, 10, 20,
  30];
var yinchuanSummer = [20, 5, 20, 20, 5, 20, 40, 10, 30, 10,
  5, 10, 10, 10, 20, 20, 5, 40, 90, 50,
  10, 30, 10, 10, 20, 10, 10, 20, 20, 20,
  30, 10, 10, 10, 20, 10, 10, 10, 5, 10,
  10];
var yinchuanSpring = [50, 40, 50, 70, 100, 60, 40, 40, 80, 60,
  50, 60, 50, 50, 50, 40, 40, 60, 70, 40,
  60, 30, 70, 50, 60, 90, 60, 40, 90, 50,
  40, 60, 60, 60, 70, 40, 50, 40, 40, 30,
  50];

// Lhasa (Kongga)
var lhasaAnnual = [0, 0, 0, 0, 0, 0, 0, 0, 0, 0,
  0, 0, 0, 0, 0, 0, 0, 0, 0, 0,
  0, 0, 0, 0, 0, 0, 0, 0, 0, 0,
  0, 0, 0, 0, 0, 0, 0, 0, 0, 0,
  0];
var lhasaWinter = lhasaAnnual;
var lhasaAutumn = lhasaAnnual;
var lhasaSummer = lhasaAnnual;
var lhasaSpring = lhasaAnnual;

var stationNames = ['Beijing (Capital)', 'Shanghai (Pudong)', 'Guangzhou (Baiyun)', 'Chengdu (Shuangliu)',
  'Kunming (Changshui)', 'Xi\u2019an (Xianyang)', 'Chongqing (Jiangbei)', 'Nanjing (Lukou)',
  'Zhengzhou (Xinzheng)', 'Xiamen (Gaoqi)', 'Wuhan (Tianhe)', 'Changsha (Huanghua)',
  'Qingdao (Liuting)', 'Haikou (Meilan)', 'Urumchi (Diwopu)', 'Tianjin (Binhai)',
  'Guiyang (Longdongbao)', 'Harbin (Taiping)', 'Shenyang (Taoxian)', 'Nanning (Wuxu)',
  'Lanzhou (Zhongchuan)', 'Hohhot (Baita)', 'Yinchuan (Hedong)', 'Lhasa (Kongga)'];

var trendLabels = ['Trend: -3.28 / 10 years (p-value: 0.159)', 'Trend: 0.12 / 10 years (p-value: 0.979)',
  'Trend: -1.4 / 10 years (p-value: 0.531)', 'Trend: 0.04 / 10 years (p-value: 0.957)',
  'Trend: -0.06 / 10 years (p-value: 0.977)', 'Trend: 1.76 / 10 years (p-value: 0.422)',
  'Trend: 0.02 / 10 years (p-value: 0.752)', 'Trend: 6.5 / 10 years (p-value: 0.099)',
  'Trend: 3.32 / 10 years (p-value: 0.676)', 'Trend: -1.17 / 10 years (p-value: 0.694)',
  'Trend: 2.29 / 10 years (p-value: 0.464)', 'Trend: 2.29 / 10 years (p-value: 0.045)',
  'Trend: -1 / 10 years (p-value: 0.807)', 'Trend: -3.02 / 10 years (p-value: 0.221)',
  'Trend: 4.4 / 10 years (p-value: 0.04)', 'Trend: -19.15 / 10 years (p-value: 0.031)',
  'Trend: -0.52 / 10 years (p-value: 0.922)', 'Trend: -25.28 / 10 years (p-value: 0.047)',
  'Trend: -22.15 / 10 years (p-value: 0.111)', 'Trend: 0.27 / 10 years (p-value: 0.876)',
  'Trend: 0.56 / 10 years (p-value: 0.661)', 'Trend: -1.5 / 10 years (p-value: 0.395)',
  'Trend: -8.9 / 10 years (p-value: 0.129)', 'Trend: 0 / 10 years (p-value: 0)'];

// fitted trend line value at 1979 and at 2019
var trendStart = [75, 138, 28, 15, 42, 28, 1, 65, 322, 42, 48, 10,
  115, 30, 30, 455, 95, 710, 645, 14.5, 20, 50, 162, 0];
var trendEnd = [62, 139, 23, 15, 41, 35, 1.1, 91, 335, 37, 57, 19,
  111, 18, 48, 378, 93, 608, 555, 15.6, 22, 44, 126, 0];

var stationSeries = [
  [beijingAnnual, beijingWinter, beijingAutumn, beijingSummer, beijingSpring],
  [shanghaiAnnual, shanghaiWinter, shanghaiAutumn, shanghaiSummer, shanghaiSpring],
  [guangzhouAnnual, guangzhouWinter, guangzhouAutumn, guangzhouSummer, guangzhouSpring],
  [chengduAnnual, chengduWinter, chengduAutumn, chengduSummer, chengduSpring],
  [kunmingAnnual, kunmingWinter, kunmingAutumn, kunmingSummer, kunmingSpring],
  [xianAnnual, xianWinter, xianAutumn, xianSummer, xianSpring],
  [chongqingAnnual, chongqingWinter, chongqingAutumn, chongqingSummer, chongqingSpring],
  [nanjingAnnual, nanjingWinter, nanjingAutumn, nanjingSummer, nanjingSpring],
  [zhengzhouAnnual, zhengzhouWinter, zhengzhouAutumn, zhengzhouSummer, zhengzhouSpring],
  [xiamenAnnual, xiamenWinter, xiamenAutumn, xiamenSummer, xiamenSpring],
  [wuhanAnnual, wuhanWinter, wuhanAutumn, wuhanSummer, wuhanSpring],
  [changshaAnnual, changshaWinter, changshaAutumn, changshaSummer, changshaSpring],
  [qingdaoAnnual, qingdaoWinter, qingdaoAutumn, qingdaoSummer, qingdaoSpring],
  [haikouAnnual, haikouWinter, haikouAutumn, haikouSummer, haikouSpring],
  [urumchiAnnual, urumchiWinter, urumchiAutumn, urumchiSummer, urumchiSpring],
  [tianjinAnnual, tianjinWinter, tianjinAutumn, tianjinSummer, tianjinSpring],
  [guiyangAnnual, guiyangWinter, guiyangAutumn, guiyangSummer, guiyangSpring],
  [harbinAnnual, harbinWinter, harbinAutumn, harbinSummer, harbinSpring],
  [shenyangAnnual, shenyangWinter, shenyangAutumn, shenyangSummer, shenyangSpring],
  [nanningAnnual, nanningWinter, nanningAutumn, nanningSummer, nanningSpring],
  [lanzhouAnnual, lanzhouWinter, lanzhouAutumn, lanzhouSummer, lanzhouSpring],
  [hohhotAnnual, hohhotWinter, hohhotAutumn, hohhotSummer, hohhotSpring],
  [yinchuanAnnual, yinchuanWinter, yinchuanAutumn, yinchuanSummer, yinchuanSpring],
  [lhasaAnnual, lhasaWinter, lhasaAutumn, lhasaSummer, lhasaSpring]
];

var colors = { Annual: '#000000', Winter: '#1f5bff', Autumn: '#ffa20a', Summer: '#b40f0f', Spring: '#17873a' };
var widths = { Annual: 3, Winter: 1.8, Autumn: 1.8, Summer: 1.8, Spring: 1.8 };

var colLeft = [48, 298, 548, 799];
var rowTop = [18, 180, 342, 502, 663, 824];
var plotW = 218, plotH = 130;

var chart = echarts.init(document.getElementById('main'));

var grids = [], xAxes = [], yAxes = [], titles = [], legends = [], series = [];
var isDecade = function (idx, v) { return Number(v) % 10 === 0; };

for (var i = 0; i < stationNames.length; i++) {
  var L = colLeft[i % 4], T = rowTop[Math.floor(i / 4)];
  grids.push({ left: L, top: T, width: plotW, height: plotH, show: true,
    borderColor: '#000', borderWidth: 1.5, containLabel: false });
  xAxes.push({
    type: 'category', gridIndex: i, data: years, boundaryGap: false,
    axisLine: { show: false },
    axisTick: { show: true, interval: isDecade, length: 4, lineStyle: { color: '#000', width: 1 } },
    axisLabel: { interval: isDecade, fontSize: 6.5, fontFamily: 'Liberation Serif', color: '#000', margin: 6 },
    splitLine: { show: false }
  });
  yAxes.push({
    type: 'value', gridIndex: i, min: 0, max: 960, interval: 200,
    axisLine: { show: false },
    axisTick: { show: true, length: 4, lineStyle: { color: '#000', width: 1 } },
    minorTick: { show: true, splitNumber: 4, length: 2, lineStyle: { color: '#000', width: 0.8 } },
    axisLabel: { fontSize: 6.5, fontFamily: 'Liberation Serif', color: '#000', margin: 8,
      formatter: function (v) { return yTicks.indexOf(v) >= 0 ? String(v) : ''; } },
    splitLine: { show: false }
  });
  titles.push({
    text: stationNames[i], left: L + plotW / 2, top: T - 16, textAlign: 'center', padding: 0,
    textStyle: { fontSize: 15, fontWeight: 'normal', fontFamily: 'Liberation Sans', color: '#000' }
  });
  titles.push({
    text: trendLabels[i], left: L + 6, top: T + 4, padding: 0,
    textStyle: { fontSize: 9, fontWeight: 'normal', fontFamily: 'Liberation Sans', color: '#000' }
  });
  legends.push({
    data: seasonNames, orient: 'vertical', left: L + 167, top: T + 5, padding: 0,
    itemGap: 0, itemWidth: 21, itemHeight: 2.5, icon: 'rect', selectedMode: false,
    textStyle: { fontSize: 7, fontFamily: 'Liberation Sans', color: '#000', lineHeight: 10, padding: [0, 0, 0, -4] }
  });

  var s = stationSeries[i];
  // seasonal lines first, then the annual total, then the fitted trend
  var order = [1, 2, 3, 4, 0];
  for (var k = 0; k < order.length; k++) {
    var name = seasonNames[order[k]];
    series.push({
      name: name, type: 'line', xAxisIndex: i, yAxisIndex: i, data: s[order[k]],
      showSymbol: false, symbol: 'none', silent: true, clip: true,
      lineStyle: { color: colors[name], width: widths[name] },
      itemStyle: { color: colors[name] }
    });
  }
  series.push({
    name: 'Trend', type: 'line', xAxisIndex: i, yAxisIndex: i,
    data: [[0, trendStart[i]], [years.length - 1, trendEnd[i]]],
    showSymbol: false, symbol: 'none', silent: true,
    lineStyle: { color: '#ff1a8c', width: 3.5 }
  });
}

chart.setOption({
  animation: false,
  backgroundColor: '#fff',
  title: titles,
  legend: legends,
  grid: grids,
  xAxis: xAxes,
  yAxis: yAxes,
  series: series,
  graphic: [
    { type: 'text', left: 490, top: 974,
      style: { text: 'Years', fontSize: 14, fontFamily: 'Liberation Sans', fill: '#000' } },
    { type: 'text', x: 4, y: 545, rotation: Math.PI / 2,
      style: { text: 'Hours per year', fontSize: 14, fontFamily: 'Liberation Sans', fill: '#000' } }
  ]
});
</script>
</body>
</html>
